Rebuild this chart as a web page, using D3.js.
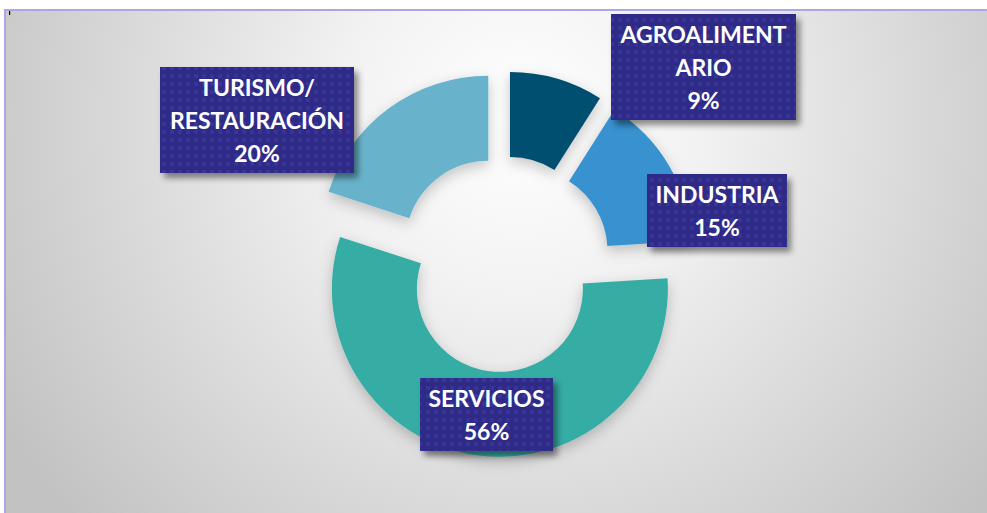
<!DOCTYPE html>
<html>
<head>
<meta charset="utf-8">
<script src="https://cdn.jsdelivr.net/npm/d3@7"></script>
<style>
  html, body { margin: 0; padding: 0; background: #ffffff; }
  svg { display: block; }
</style>
</head>
<body>
<div id="chart"></div>
<script>
// datos del gráfico (sectores)
const categories = ["AGROALIMENTARIO", "INDUSTRIA", "SERVICIOS", "TURISMO/RESTAURACIÓN"];
const values = [9, 15, 56, 20];
const labelLines = [["AGROALIMENT", "ARIO"], ["INDUSTRIA"], ["SERVICIOS"], ["TURISMO/", "RESTAURACIÓN"]];
const colors = ["#02506f", "#3992d0", "#36aca4", "#67b3cb"];

// posiciones de las etiquetas (cajas) : centro y ancho
const labelBoxes = [
    {cx: 703.5, cy: 67, w: 185},
    {cx: 717, cy: 210.5, w: 140},
    {cx: 486.5, cy: 414.5, w: 133},
    {cx: 257, cy: 120, w: 194}
];

const W = 987, H = 513;
const center = {x: 503, y: 264};
const outerR = 168, innerR = 83, explode = 25;

const svg = d3.select('#chart')
    .append('svg')
    .attr('width', W)
    .attr('height', H);

const defs = svg.append('defs');

// fondo degradado
const grad = defs.append('radialGradient')
    .attr('id', 'bg')
    .attr('gradientUnits', 'userSpaceOnUse')
    .attr('cx', 520).attr('cy', 120)
    .attr('r', 600);
grad.append('stop').attr('offset', '0').attr('stop-color', '#ffffff');
grad.append('stop').attr('offset', '0.3').attr('stop-color', '#f2f2f2');
grad.append('stop').attr('offset', '0.65').attr('stop-color', '#dadada');
grad.append('stop').attr('offset', '1').attr('stop-color', '#c2c2c2');

// sombras
const sh = defs.append('filter').attr('id', 'sliceShadow')
    .attr('x', '-30%').attr('y', '-30%').attr('width', '160%').attr('height', '160%');
sh.append('feDropShadow')
    .attr('dx', 0).attr('dy', 5)
    .attr('stdDeviation', 7)
    .attr('flood-color', '#000')
    .attr('flood-opacity', 0.22);

const bsh = defs.append('filter').attr('id', 'boxShadow')
    .attr('x', '-20%').attr('y', '-20%').attr('width', '150%').attr('height', '160%');
bsh.append('feDropShadow')
    .attr('dx', 4).attr('dy', 5)
    .attr('stdDeviation', 3)
    .attr('flood-color', '#000')
    .attr('flood-opacity', 0.45);

// motivo de puntos para las cajas
const pat = defs.append('pattern')
    .attr('id', 'dots')
    .attr('patternUnits', 'userSpaceOnUse')
    .attr('width', 8).attr('height', 8);
pat.append('rect').attr('width', 8).attr('height', 8).attr('fill', '#2e2a86');
pat.append('circle').attr('cx', 4).attr('cy', 4).attr('r', 2.2).attr('fill', '#38359a');

// marco
svg.append('rect')
    .attr('x', 5).attr('y', 10)
    .attr('width', W - 5).attr('height', H - 10)
    .attr('fill', 'url(#bg)');

svg.append('path')
    .attr('d', `M5,${H} L5,10 L${W},10`)
    .attr('fill', 'none')
    .attr('stroke', '#aca6e6')
    .attr('stroke-width', 2);

svg.append('rect')
    .attr('x', 9).attr('y', 11)
    .attr('width', 1.2).attr('height', 4)
    .attr('fill', '#000');

// donut
const pie = d3.pie().sort(null).value(d => d);
const arc = d3.arc().innerRadius(innerR).outerRadius(outerR);
const arcs = pie(values);

const g = svg.append('g')
    .attr('transform', 'translate(' + center.x + ',' + center.y + ')');

g.selectAll('path.slice')
    .data(arcs)
    .join('path')
    .attr('class', 'slice')
    .attr('d', arc)
    .attr('fill', (d, i) => colors[i])
    .attr('filter', 'url(#sliceShadow)')
    .attr('transform', d => {
        const a = (d.startAngle + d.endAngle) / 2;
        return 'translate(' + (Math.sin(a) * explode) + ',' + (-Math.cos(a) * explode) + ')';
    });

// etiquetas
const lineH = 33;
const labels = svg.append('g')
    .selectAll('g.label')
    .data(arcs)
    .join('g')
    .attr('class', 'label');

labels.each(function(d, i) {
    const box = labelBoxes[i];
    const lines = labelLines[i].concat([values[i] + '%']);
    const h = lines.length * lineH + 7;
    const top = box.cy - h / 2;
    const sel = d3.select(this);

    sel.append('rect')
        .attr('x', box.cx - box.w / 2)
        .attr('y', top)
        .attr('width', box.w)
        .attr('height', h)
        .attr('fill', 'url(#dots)')
        .attr('filter', 'url(#boxShadow)');

    sel.selectAll('text')
        .data(lines)
        .join('text')
        .attr('x', box.cx)
        .attr('y', (t, j) => top + 29 + j * lineH)
        .attr('text-anchor', 'middle')
        .attr('fill', '#ffffff')
        .style('font-family', 'Lato, "Open Sans", sans-serif')
        .style('font-weight', 'bold')
        .style('font-size', '23px')
        .text(t => t);
});
</script>
</body>
</html>
